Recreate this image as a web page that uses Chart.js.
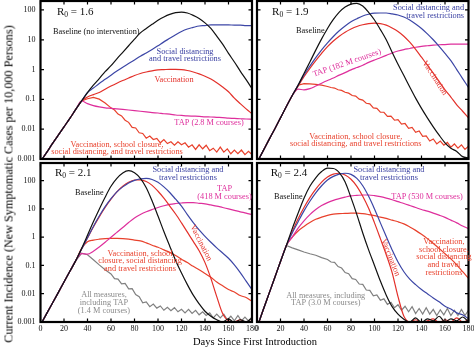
<!DOCTYPE html>
<html>
<head>
<meta charset="utf-8">
<script src="https://cdn.jsdelivr.net/npm/chart.js@4.4.1/dist/chart.umd.min.js"></script>
<style>
  html, body { margin: 0; padding: 0; background: #fff; }
  #fig { position: relative; width: 474px; height: 349px; overflow: hidden;
         font-family: "Liberation Serif", "Times New Roman", serif; }
  #fig canvas { position: absolute; left: 0; top: 0; }
  .axis-title { position: absolute; white-space: nowrap; color: #000; }
</style>
</head>
<body>
<div id="fig">
  <canvas id="p16" width="474" height="349"></canvas>
  <canvas id="p19" width="474" height="349"></canvas>
  <canvas id="p21" width="474" height="349"></canvas>
  <canvas id="p24" width="474" height="349"></canvas>
  <div class="axis-title" style="left:9px;top:184px;font-size:12.2px;transform:translate(-50%,-50%) rotate(-90deg);">Current Incidence (New Symptomatic Cases per 10,000 Persons)</div>
  <div class="axis-title" style="left:255px;top:341px;font-size:10.5px;transform:translate(-50%,-50%);">Days Since First Introduction</div>
</div>
<script>
// ---- time grid (days since first introduction) ----
const days = [0,5,10,15,20,25,30,35,40,45,50,55,60,65,70,75,80,85,90,95,100,105,110,115,120,125,130,135,140,145,150,155,160,165,170,175,180];
const noisyDays = [0,5,10,15,20,25,30,35,40,45,50,55,60,63,66,69,72,75,78,81,84,87,90,93,96,99,102,105,108,111,114,117,120,123,126,129,132,135,138,141,144,147,150,153,156,159,162,165,168,171,174,177,180];

// ---- axis ticks ----
const xTickDays = [0,20,40,60,80,100,120,140,160,180];
const yTickValues = [0.001,0.01,0.1,1,10,100];
const yTickLabels = ['0.001','0.01','0.1','1','10','100'];
const r0Values = ['1.6','1.9','2.1','2.4'];

// ---- R0 = 1.6 (new symptomatic cases per 10,000 persons) ----
const p16Baseline    = [0.00083,0.0016,0.0032,0.0062,0.012,0.023,0.046,0.089,0.17,0.30,0.50,0.85,1.35,2.3,3.8,6.3,10.5,17,24,33,45,58,71,81,85,79,66,52,37,24,13.2,7.1,3.5,1.8,0.89,0.46,0.23];
const p16Distancing  = [0.00083,0.0016,0.0032,0.0062,0.012,0.023,0.046,0.089,0.17,0.24,0.34,0.47,0.65,0.89,1.2,1.6,2.1,2.8,3.6,4.7,6.3,8.5,11.2,14.8,19,23,26,29,30,31.6,31.6,31.6,31.6,31,31,30,30];
const p16Vaccination = [0.00083,0.0016,0.0032,0.0062,0.012,0.023,0.046,0.089,0.12,0.145,0.17,0.22,0.28,0.35,0.43,0.52,0.63,0.74,0.83,0.91,0.98,1.0,1.02,1.02,1.0,0.93,0.83,0.72,0.60,0.48,0.36,0.26,0.18,0.11,0.072,0.048,0.033];
const p16Tap         = [0.00083,0.0016,0.0032,0.0062,0.012,0.023,0.046,0.089,0.072,0.062,0.056,0.052,0.050,0.048,0.046,0.044,0.042,0.040,0.038,0.036,0.035,0.033,0.032,0.030,0.029,0.028,0.0275,0.027,0.026,0.0257,0.025,0.0245,0.0234,0.023,0.0224,0.022,0.0214];
const p16AllNpi      = [0.00083,0.0016,0.0032,0.0062,0.012,0.023,0.046,0.089,0.105,0.117,0.102,0.076,
  0.052,0.044,0.032,0.028,0.020,0.017,0.0115,0.011,0.0076,0.0072,0.0050,0.0059,0.0045,0.0049,0.0035,0.0045,0.0033,0.0038,0.0029,0.0038,
  0.0030,0.0035,0.0025,0.0030,0.0021,0.0030,0.0022,0.0029,0.0019,0.0023,0.0017,0.0025,0.0017,0.0022,0.0015,0.0020,0.0015,0.0020,0.0014,0.0018,0.0014];

// ---- R0 = 1.9 ----
const p19Baseline    = [0.00076,0.0018,0.0043,0.010,0.024,0.058,0.135,0.30,0.74,1.8,4.5,10.7,24,48,85,126,158,166,135,83,46,22,10,3.8,1.5,0.63,0.26,0.11,0.050,0.024,0.012,0.0063,0.0035,0.0023,0.0018,0.0012,0.0011];
const p19Distancing  = [0.00076,0.0018,0.0043,0.010,0.024,0.058,0.135,0.30,0.66,1.3,2.5,4.6,7.9,12.9,20,29,40,51,63,72,78,79,79,74,68,58,46,34,24,15.8,10,6.0,3.5,2.0,1.0,0.50,0.25];
const p19Vaccination = [0.00076,0.0018,0.0043,0.010,0.024,0.058,0.135,0.28,0.58,1.1,2.0,3.5,5.9,9.1,13.2,18,23,28,32,35,36,35,31,25,19,13.2,8.3,4.8,2.6,1.4,0.76,0.40,0.21,0.12,0.066,0.040,0.024];
const p19Tap         = [0.00076,0.0018,0.0043,0.010,0.024,0.058,0.135,0.22,0.21,0.23,0.28,0.35,0.43,0.52,0.65,0.79,0.98,1.17,1.4,1.74,2.1,2.5,3.0,3.6,4.2,4.7,5.1,5.6,6.0,6.3,6.6,6.8,6.9,7.1,7.1,7.1,7.1];
const p19AllNpi      = [0.00076,0.0018,0.0043,0.010,0.024,0.058,0.135,0.30,0.34,0.33,0.32,0.30,
  0.27,0.25,0.24,0.21,0.20,0.174,0.162,0.135,0.129,0.102,0.095,0.074,0.071,0.052,0.050,0.037,0.037,0.027,0.0275,0.020,
  0.021,0.0148,0.0155,0.0107,0.0115,0.0079,0.0087,0.0058,0.0060,0.0040,0.0047,0.0032,0.0040,0.0029,0.0036,0.0025,0.0032,0.0023,0.0030,0.0021,0.0027];

// ---- R0 = 2.1 ----
const p21Baseline    = [0.00079,0.0019,0.0045,0.0107,0.026,0.062,0.148,0.40,1.17,3.5,9.8,26,63,120,186,224,190,120,56,19,5.6,1.58,0.48,0.15,0.054,0.021,0.0089,0.0044,0.0024,0.0016,0.0012,0.0010,0.0013,0.00095,0.0012,0.0010,0.0014];
const p21Distancing  = [0.00079,0.0019,0.0045,0.0107,0.026,0.062,0.148,0.38,0.95,2.4,5.6,12,23,40,60,83,102,115,120,110,87,60,38,22,12.6,6.3,3.3,1.8,1.07,0.66,0.42,0.275,0.18,0.105,0.056,0.028,0.014];
const p21Vaccination = [0.00079,0.0019,0.0045,0.0107,0.026,0.062,0.148,0.38,0.93,2.3,5.2,11.2,22,40,63,87,105,107,93,68,42,24,12.6,6.6,3.2,1.5,0.71,0.33,0.126,0.035,0.0079,0.0020,0.0011,0.0010,0.0012,0.00095,0.0011];
const p21Tap         = [0.00079,0.0019,0.0045,0.0107,0.026,0.062,0.148,0.26,0.25,0.32,0.45,0.66,1.0,1.48,2.2,3.3,4.8,6.3,7.9,9.5,11.2,12.9,14.5,15.5,16.2,16.6,16.6,15.8,15.1,13.8,12.6,11.2,10,8.9,7.9,7.1,6.3];
const p21AllNpi      = [0.00079,0.0019,0.0045,0.0107,0.026,0.062,0.148,0.40,0.69,0.79,0.85,0.89,0.91,0.91,0.89,0.85,0.79,0.74,0.63,0.52,0.44,0.355,0.29,0.224,0.166,0.126,0.093,0.071,0.052,0.038,0.026,0.019,0.014,0.0115,0.0086,0.0074,0.0054];
const p21AllMeasures = [0.00079,0.0019,0.0045,0.0107,0.026,0.062,0.148,0.27,0.24,0.16,0.105,0.071,
  0.050,0.034,0.033,0.0224,0.023,0.0148,0.0151,0.0093,0.0079,0.0048,0.0051,0.0035,0.0043,0.0031,0.0037,0.0026,0.0033,0.0025,0.0032,0.0023,
  0.0028,0.0021,0.0028,0.0020,0.0026,0.0018,0.0023,0.0017,0.0021,0.0014,0.0019,0.0014,0.0019,0.0012,0.0016,0.0011,0.0017,0.0011,0.0015,0.0011,0.0015];

// ---- R0 = 2.4 ----
const p24Baseline    = [0.00063,0.0025,0.0095,0.036,0.138,0.51,2.0,7.1,24,63,126,209,275,269,191,89,25,6.3,1.41,0.355,0.10,0.028,0.0089,0.0035,0.0019,0.00126,0.0010,0.0014,0.00095,0.0013,0.0011,0.0016,0.0010,0.0013,0.0011,0.0015,0.0010];
const p24Distancing  = [0.00063,0.0025,0.0095,0.036,0.138,0.51,1.41,3.5,8.5,18.6,37,66,105,141,170,182,166,120,66,28,10,3.2,1.05,0.355,0.132,0.060,0.033,0.021,0.014,0.010,0.0071,0.0052,0.0036,0.0029,0.0021,0.0018,0.0013];
const p24Vaccination = [0.00063,0.0025,0.0095,0.036,0.138,0.51,1.58,4.5,11.2,25,50,89,135,170,182,158,112,63,28,10.5,3.2,0.89,0.24,0.056,0.0079,0.0016,0.0010,0.0012,0.00095,0.0011,0.0013,0.00095,0.0012,0.0010,0.0014,0.0010,0.0012];
const p24Tap         = [0.00063,0.0025,0.0095,0.036,0.138,0.51,1.0,2.1,3.8,6.3,9.5,13.2,16.6,20,23,26,29,30,31,31,29.5,27,24,21,18,15.5,13.2,11.2,9.5,8.3,7.1,6.0,5.0,4.0,3.2,2.5,2.0];
const p24AllNpi      = [0.00063,0.0025,0.0095,0.036,0.138,0.51,1.0,1.66,2.4,3.3,4.3,5.1,5.9,6.5,6.8,6.9,7.1,7.1,6.8,6.3,5.75,5.1,4.6,4.0,3.5,2.95,2.3,1.74,1.26,0.89,0.60,0.40,0.26,0.17,0.105,0.060,0.035];
const p24AllMeasures = [0.00063,0.0025,0.0095,0.036,0.138,0.51,0.42,0.355,0.30,0.26,0.23,0.19,
  0.162,0.132,0.129,0.091,0.081,0.056,0.051,0.034,0.032,0.022,0.0214,0.0135,0.0132,0.0085,0.0091,0.0059,0.0066,0.0042,0.0050,0.0032,
  0.0041,0.0026,0.0036,0.0023,0.0035,0.0020,0.0030,0.0019,0.0032,0.0019,0.0028,0.0017,0.0027,0.0018,0.0030,0.0017,0.0026,0.0017,0.0028,0.0017,0.0026];

// ---- styling ----
const FONT = '"Liberation Serif", "Times New Roman", serif';
const NOTE_SIZE = 8.3;
const NOTE_LINE = 7.6;
const C = {
  black: '#111111', blue: '#3c46a6', red: '#e3302a', red2: '#e8412c',
  magenta: '#de2f9c', gray: '#808080', blueText: '#3a40a2', grayText: '#8a8a8a'
};

const S = (label, x, y, color, noisy) => ({ label, x, y, color, noisy: !!noisy });

const panels = [
  {
    id: 'p16', r0: r0Values[0], r0At: { day: 14.0, value: 85 }, yMax: 200,
    padding: { left: 0, top: 1, right: 222, bottom: 190 }, showY: true, showX: false,
    series: [
      S('Baseline', days, p16Baseline, C.black),
      S('Social distancing and travel restrictions', days, p16Distancing, C.blue),
      S('Vaccination', days, p16Vaccination, C.red),
      S('TAP', days, p16Tap, C.magenta),
      S('Vaccination, school closure, social distancing, and travel restrictions', noisyDays, p16AllNpi, C.red2, true)
    ],
    notes: [
      { lines: ['Baseline (no intervention)'], day: 10.6, value: 18.3, color: C.black, align: 'left' },
      { lines: ['Social distancing', 'and travel restrictions'], day: 123, value: 3.0, color: C.blueText },
      { lines: ['Vaccination'], day: 113.6, value: 0.45, color: C.red },
      { lines: ['TAP (2.8 M courses)'], day: 143.4, value: 0.0168, color: C.magenta },
      { lines: ['Vaccination, school closure,', 'social distancing, and travel restrictions'], day: 65.1, value: 0.00225, color: C.red2 }
    ]
  },
  {
    id: 'p19', r0: r0Values[1], r0At: { day: 12.8, value: 85 }, yMax: 200,
    padding: { left: 257, top: 1, right: 5.5, bottom: 190 }, showY: false, showX: false,
    series: [
      S('Baseline', days, p19Baseline, C.black),
      S('Social distancing and travel restrictions', days, p19Distancing, C.blue),
      S('Vaccination', days, p19Vaccination, C.red),
      S('TAP', days, p19Tap, C.magenta),
      S('Vaccination, school closure, social distancing, and travel restrictions', noisyDays, p19AllNpi, C.red2, true)
    ],
    notes: [
      { lines: ['Baseline'], day: 33.2, value: 19.7, color: C.black, align: 'left' },
      { lines: ['Social distancing and', 'travel restrictions'], day: 176.2, value: 85, color: C.blueText, align: 'right' },
      { lines: ['TAP (182 M courses)'], day: 76.6, value: 1.66, color: C.magenta, angle: -19 },
      { lines: ['Vaccination'], day: 151.2, value: 0.52, color: C.red, angle: 57 },
      { lines: ['Vaccination, school closure,', 'social distancing, and travel restrictions'], day: 84, value: 0.0042, color: C.red2 }
    ]
  },
  {
    id: 'p21', r0: r0Values[2], r0At: { day: 12.3, value: 186 }, yMax: 420,
    padding: { left: 0, top: 163, right: 222, bottom: 0 }, showY: true, showX: true,
    series: [
      S('Baseline', days, p21Baseline, C.black),
      S('Social distancing and travel restrictions', days, p21Distancing, C.blue),
      S('Vaccination', days, p21Vaccination, C.red),
      S('TAP', days, p21Tap, C.magenta),
      S('Vaccination, school closure, social distancing, and travel restrictions', days, p21AllNpi, C.red2),
      S('All measures, including TAP', noisyDays, p21AllMeasures, C.gray, true)
    ],
    notes: [
      { lines: ['Baseline'], day: 29.4, value: 35.6, color: C.black, align: 'left' },
      { lines: ['Social distancing and', 'travel restrictions'], day: 125.5, value: 173, color: C.blueText },
      { lines: ['TAP', '(418 M courses)'], day: 156.6, value: 36.4, color: C.magenta },
      { lines: ['Vaccination'], day: 136.6, value: 0.62, color: C.red, angle: 63 },
      { lines: ['Vaccination, school', 'closure, social distancing', 'and travel restrictions'], day: 84.7, value: 0.144, color: C.red2 },
      { lines: ['All measures,', 'including TAP', '(1.4 M courses)'], day: 54, value: 0.0048, color: C.grayText }
    ]
  },
  {
    id: 'p24', r0: r0Values[3], r0At: { day: 11.7, value: 181 }, yMax: 420,
    padding: { left: 257, top: 163, right: 5.5, bottom: 0 }, showY: false, showX: true,
    series: [
      S('Baseline', days, p24Baseline, C.black),
      S('Social distancing and travel restrictions', days, p24Distancing, C.blue),
      S('Vaccination', days, p24Vaccination, C.red),
      S('TAP', days, p24Tap, C.magenta),
      S('Vaccination, school closure, social distancing, and travel restrictions', days, p24AllNpi, C.red2),
      S('All measures, including TAP', noisyDays, p24AllMeasures, C.gray, true)
    ],
    notes: [
      { lines: ['Baseline'], day: 14.5, value: 25.7, color: C.black, align: 'left' },
      { lines: ['Social distancing and', 'travel restrictions'], day: 112.3, value: 171, color: C.blueText },
      { lines: ['TAP (530 M courses)'], day: 144.7, value: 25.7, color: C.magenta },
      { lines: ['Vaccination'], day: 113.6, value: 0.191, color: C.red, angle: 68 },
      { lines: ['Vaccination,', 'school closure,', 'social distancing', 'and travel', 'restrictions'], day: 159.1, value: 0.194, color: C.red2 },
      { lines: ['All measures, including', 'TAP (3.0 M courses)'], day: 58.5, value: 0.0063, color: C.grayText }
    ]
  }
];

// Frame, inward tick marks, R0 heading and curve annotations for one panel
function framePlugin(p) {
  return {
    id: 'frame',
    afterDatasetsDraw(chart) {
      const { ctx, chartArea: a } = chart;
      const x = chart.scales.x, y = chart.scales.y;
      ctx.save();
      ctx.strokeStyle = '#000';
      ctx.lineWidth = 1.2;
      ctx.beginPath();
      xTickDays.forEach(d => {
        const px = x.getPixelForValue(d);
        ctx.moveTo(px, a.top); ctx.lineTo(px, a.top + 3.5);
        ctx.moveTo(px, a.bottom); ctx.lineTo(px, a.bottom - 3.5);
      });
      yTickValues.forEach(v => {
        const py = y.getPixelForValue(v);
        ctx.moveTo(a.left, py); ctx.lineTo(a.left + 3.5, py);
        ctx.moveTo(a.right, py); ctx.lineTo(a.right - 3.5, py);
      });
      ctx.stroke();
      ctx.lineWidth = 2.2;
      ctx.strokeRect(a.left, a.top, a.right - a.left, a.bottom - a.top);

      // R0 heading
      const rx = x.getPixelForValue(p.r0At.day), ry = y.getPixelForValue(p.r0At.value);
      ctx.fillStyle = C.black;
      ctx.textBaseline = 'middle';
      ctx.textAlign = 'left';
      ctx.font = `11px ${FONT}`;
      ctx.fillText('R', rx, ry);
      const wR = ctx.measureText('R').width;
      ctx.font = `7.5px ${FONT}`;
      ctx.fillText('0', rx + wR, ry + 3);
      const w0 = ctx.measureText('0').width;
      ctx.font = `11px ${FONT}`;
      ctx.fillText(' = ' + p.r0, rx + wR + w0, ry);

      // curve annotations
      p.notes.forEach(n => {
        const px = x.getPixelForValue(n.day), py = y.getPixelForValue(n.value);
        ctx.save();
        ctx.translate(px, py);
        if (n.angle) ctx.rotate(n.angle * Math.PI / 180);
        ctx.fillStyle = n.color;
        ctx.font = `${NOTE_SIZE}px ${FONT}`;
        ctx.textAlign = n.align || 'center';
        ctx.textBaseline = 'middle';
        const k = n.lines.length;
        n.lines.forEach((t, i) => ctx.fillText(t, 0, (i - (k - 1) / 2) * NOTE_LINE));
        ctx.restore();
      });
      ctx.restore();
    }
  };
}

function makePanel(p) {
  const datasets = p.series.map(s => ({
    label: s.label,
    data: s.x.map((d, i) => ({ x: d, y: s.y[i] })),
    borderColor: s.color,
    borderWidth: 1.2,
    pointRadius: 0,
    fill: false,
    tension: 0,
    cubicInterpolationMode: s.noisy ? 'default' : 'monotone'
  }));
  return new Chart(document.getElementById(p.id), {
    type: 'line',
    data: { datasets },
    options: {
      responsive: false,
      animation: false,
      devicePixelRatio: 1,
      layout: { padding: p.padding },
      plugins: { legend: { display: false }, tooltip: { enabled: false } },
      scales: {
        x: {
          type: 'linear', min: 0, max: 180, display: p.showX,
          grid: { display: false, drawTicks: false }, border: { display: false },
          ticks: { display: p.showX, font: { family: FONT, size: 8 }, color: '#111', padding: 2,
                   maxRotation: 0, autoSkip: false, callback: v => String(v) },
          afterBuildTicks: s => { s.ticks = xTickDays.map(v => ({ value: v })); },
          afterFit: s => { s.height = p.showX ? 27 : 0; s.paddingLeft = 0; s.paddingRight = 0; }
        },
        y: {
          type: 'logarithmic', min: 0.001, max: p.yMax, display: p.showY, position: 'left',
          grid: { display: false, drawTicks: false }, border: { display: false },
          ticks: { display: p.showY, font: { family: FONT, size: 8 }, color: '#111', padding: 5, autoSkip: false,
                   callback: v => { const i = yTickValues.indexOf(v); return i < 0 ? '' : yTickLabels[i]; } },
          afterBuildTicks: s => { s.ticks = yTickValues.map(v => ({ value: v })); },
          afterFit: s => { s.width = p.showY ? 40.5 : 0; s.paddingTop = 0; s.paddingBottom = 0; }
        }
      }
    },
    plugins: [framePlugin(p)]
  });
}

panels.forEach(makePanel);
</script>
</body>
</html>
